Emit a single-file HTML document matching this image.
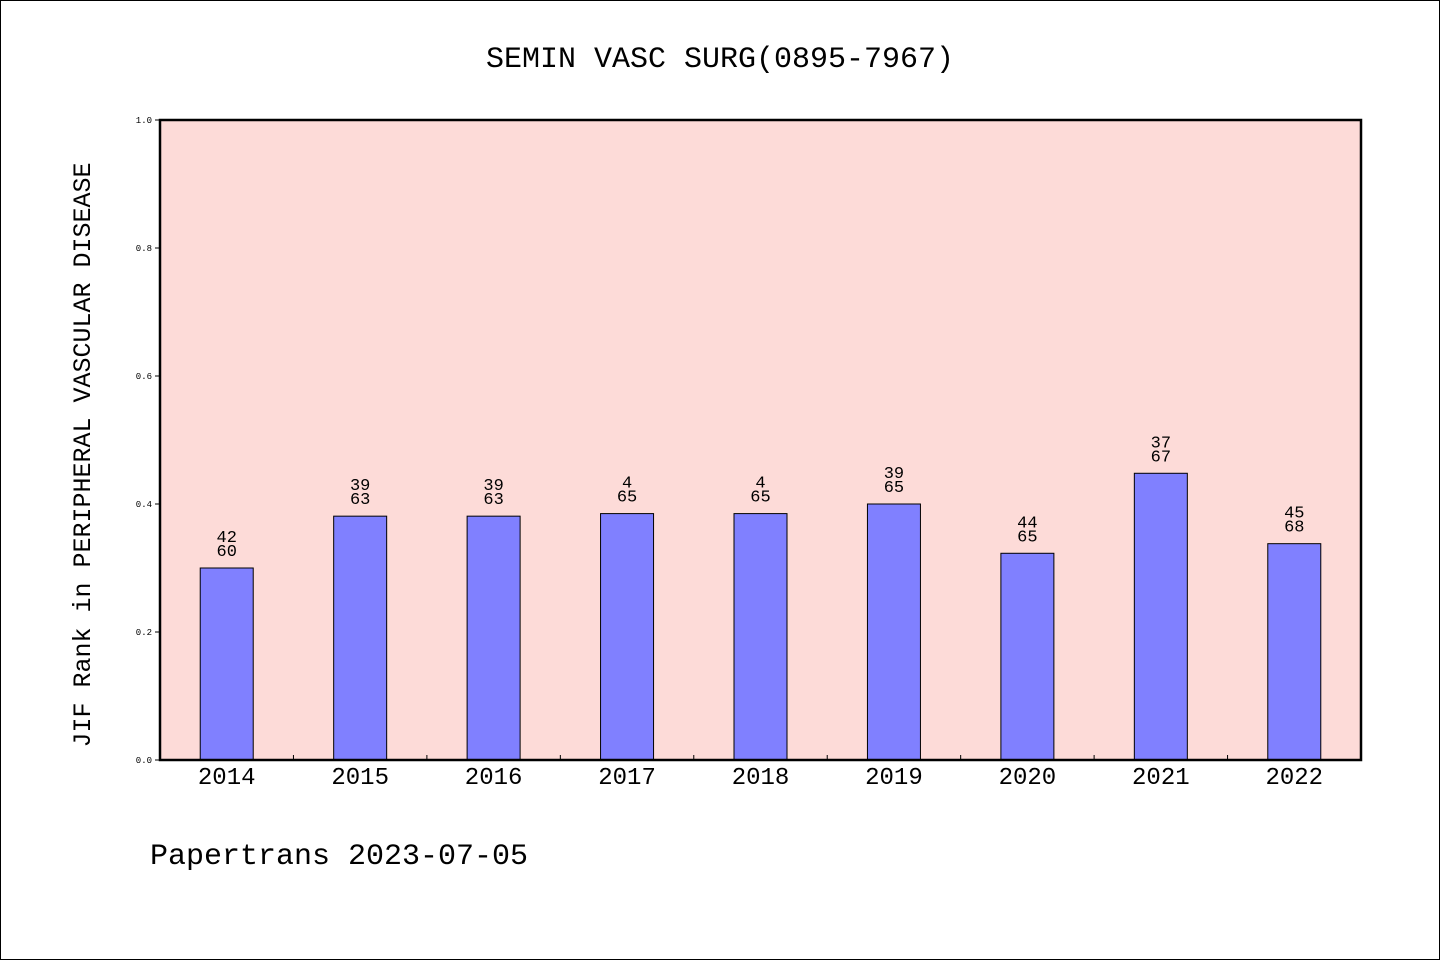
<!DOCTYPE html>
<html><head><meta charset="utf-8"><style>
html,body{margin:0;padding:0;background:#fff}
svg{display:block}
text{font-family:"Liberation Mono","DejaVu Sans Mono",monospace;fill:#000}
</style></head><body>
<svg id="chart" width="1440" height="960">
<rect x="0.5" y="0.5" width="1439" height="959" fill="#fff" stroke="#000"/>
<text x="720" y="67" text-anchor="middle" font-size="30">SEMIN VASC SURG(0895-7967)</text>
<rect x="160" y="120" width="1201" height="640" fill="#fddbd8"/>
<g id="bars"></g>
<rect x="160" y="120" width="1201" height="640" fill="none" stroke="#000" stroke-width="2.5"/>
<text transform="translate(90,455) rotate(-90)" text-anchor="middle" font-size="25">JIF Rank in PERIPHERAL VASCULAR DISEASE</text>
<text x="150" y="864" font-size="30">Papertrans 2023-07-05</text>
</svg>
<script>
const categories=["2014","2015","2016","2017","2018","2019","2020","2021","2022"];
const values=[0.3,0.381,0.381,0.385,0.385,0.4,0.323,0.448,0.338];
const rankLabels=["42","39","39","4","4","39","44","37","45"];
const totalLabels=["60","63","63","65","65","65","65","67","68"];
const yTicks=[0,0.2,0.4,0.6,0.8,1.0];
const ns="http://www.w3.org/2000/svg";
const svg=document.getElementById('chart'),g=document.getElementById('bars');
const x0=160,x1=1361,y0=760,y1=120;
const slot=(x1-x0)/categories.length;
const xc=i=>x0+slot*(i+0.5);
const ys=v=>y0-(y0-y1)*v;
function mk(t,a,p){const e=document.createElementNS(ns,t);for(const k in a)e.setAttribute(k,a[k]);(p||svg).appendChild(e);return e;}
categories.forEach((c,i)=>{
 const r=mk('rect',{x:xc(i)-26.5,y:ys(values[i]),width:53,height:y0-ys(values[i]),fill:'#8080ff',stroke:'#000','stroke-width':1},g);
 
 
 const t1=mk('text',{x:xc(i),y:ys(values[i])-26,'text-anchor':'middle','font-size':17},g);t1.textContent=rankLabels[i];
 
 
 const t2=mk('text',{x:xc(i),y:ys(values[i])-12,'text-anchor':'middle','font-size':17},g);t2.textContent=totalLabels[i];
 
 
 const xl=mk('text',{x:xc(i),y:784,'text-anchor':'middle','font-size':24});xl.textContent=c;
 
 
 if(i>0){const tk=mk('line',{x1:x0+slot*i,x2:x0+slot*i,y1:y0,y2:y0-5,stroke:'#000'});
 
 }
});
yTicks.forEach(v=>{
 const l=mk('line',{x1:x0-5,x2:x0,y1:ys(v),y2:ys(v),stroke:'#000'});
 
 
 const t=mk('text',{x:x0-8,y:ys(v)+3,'text-anchor':'end','font-size':9});t.textContent=v.toFixed(1);
 
 
});
</script>
</body></html>
